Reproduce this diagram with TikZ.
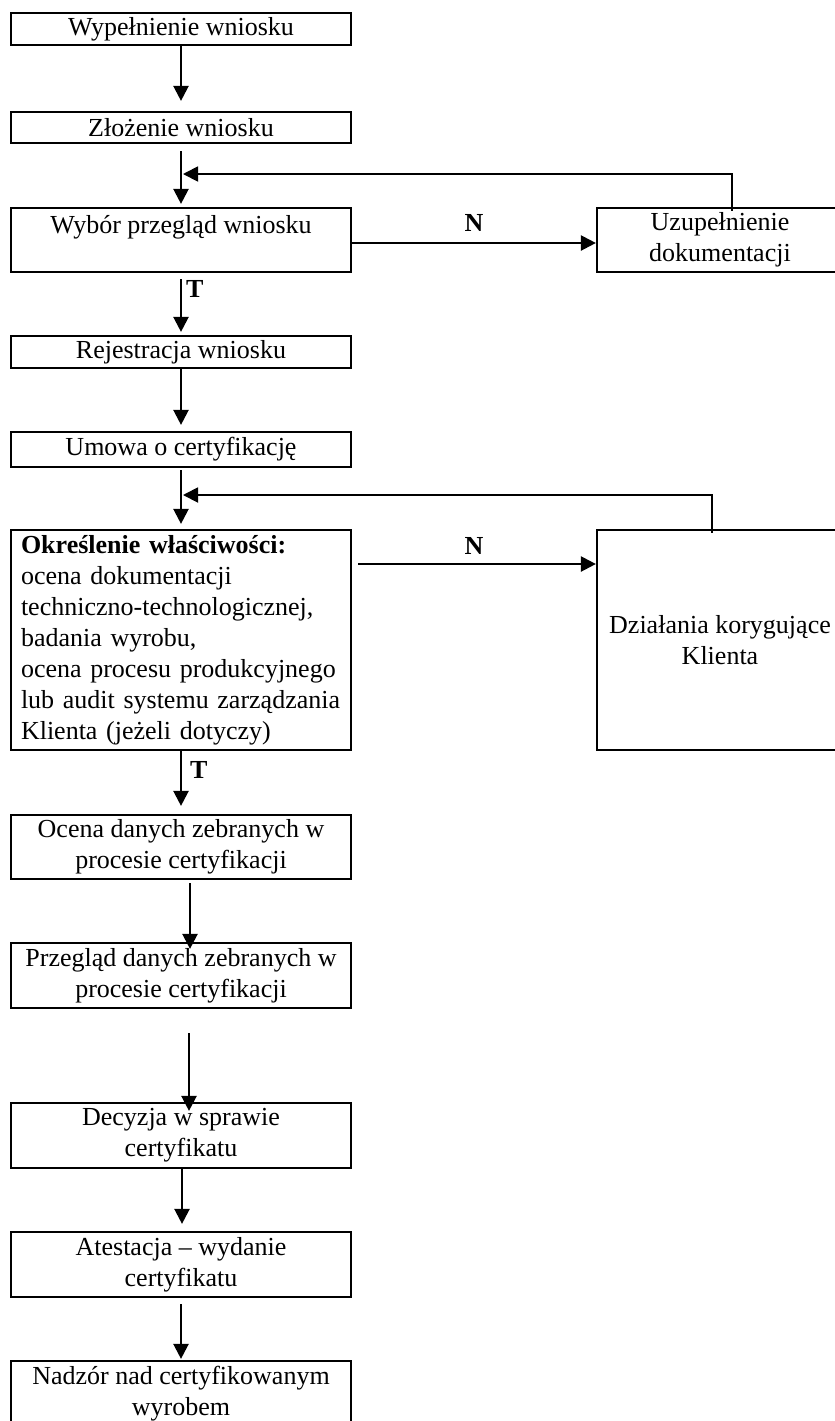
\documentclass[tikz,border=0pt]{standalone}
\usepackage{fontspec}
\setmainfont{Liberation Serif}
\usetikzlibrary{arrows.meta}

\begin{document}
\begin{tikzpicture}[x=0.5pt, y=-0.5pt,
    every node/.style={font=\fontsize{13}{15.5}\selectfont},
    box/.style={draw, line width=1.1pt, minimum width=170pt, inner sep=0pt, align=center},
    sidebox/.style={draw, line width=1.1pt, minimum width=123pt, inner sep=0pt, align=center},
    flow/.style={line width=1.15pt, -{Triangle[length=7.5pt,width=7.5pt]}},
    back/.style={line width=0.9pt, -{Triangle[length=7.5pt,width=7.5pt]}}]
    \useasboundingbox (0,0) rectangle (835,1421);
    \clip (0,0) rectangle (835,1421);

    % Main column
    \node[box, minimum height=16pt] (wyp) at (181,29) {Wypełnienie wniosku};
    \node[box, minimum height=15.5pt] (zloz) at (181,127.5) {Złożenie wniosku};
    \node[box, minimum height=32pt] (wybor) at (181,240) {Wybór przegląd wniosku\\~};
    \node[box, minimum height=16pt] (rej) at (181,352) {Rejestracja wniosku};
    \node[box, minimum height=17.5pt] (umowa) at (181,449.5) {Umowa o certyfikację};
    \node[box, minimum height=110pt, inner xsep=5pt, text width=160pt, align=left] (okresl) at (181,640)
        {\textbf{Określenie właściwości:}\\ocena dokumentacji\\techniczno-technologicznej,\\badania wyrobu,\\ocena procesu produkcyjnego\\lub audit systemu zarządzania\\Klienta (jeżeli dotyczy)};
    \node[box, minimum height=32pt] (ocena) at (181,847) {Ocena danych zebranych w\\procesie certyfikacji};
    \node[box, minimum height=32.5pt] (przeg) at (181,975.5) {Przegląd danych zebranych w\\procesie certyfikacji};
    \node[box, minimum height=32.5pt] (decyz) at (181,1135.5) {Decyzja w sprawie\\certyfikatu};
    \node[box, minimum height=32.5pt] (atest) at (181,1264.5) {Atestacja – wydanie\\certyfikatu};
    \node[box, minimum height=32.5pt] (nadzor) at (181,1393.5) {Nadzór nad certyfikowanym\\wyrobem};

    % Side boxes
    \node[sidebox, minimum height=32pt] (uzup) at (720,240) {Uzupełnienie\\dokumentacji};
    \node[sidebox, minimum height=110pt] (dzial) at (720,640) {Działania korygujące\\Klienta};

    % Joins of the feedback loops
    \coordinate (j1) at (183,174);
    \coordinate (j2) at (183,495);

    % Flow arrows
    \draw[flow, shorten >=5pt] (wyp) -- (zloz);
    \draw[flow, shorten <=3.5pt, shorten >=1.5pt] (zloz) -- (wybor);
    \draw[flow, shorten <=3pt, shorten >=1.5pt] (wybor) -- node[right, pos=0.25, inner sep=2pt] {\textbf{T}} (rej);
    \draw[flow, shorten >=3pt] (rej) -- (umowa);
    \draw[flow, shorten <=1pt, shorten >=2.5pt] (umowa) -- (okresl);
    \draw[flow, shorten >=4pt] (okresl) -- node[right, pos=0.3, inner sep=4pt] {\textbf{T}} (ocena);
    \draw[flow, shorten <=1.5pt, shorten >=-3.5pt] ([xshift=4.5pt]ocena.south) -- ([xshift=4.5pt]przeg.north);
    \draw[flow, shorten <=12pt, shorten >=-4.5pt] ([xshift=4pt]przeg.south) -- ([xshift=4pt]decyz.north);
    \draw[flow, shorten >=3.5pt] ([xshift=0.5pt]decyz.south) -- ([xshift=0.5pt]atest.north);
    \draw[flow, shorten <=3pt, shorten >=0.5pt] (atest) -- (nadzor);

    % N branches
    \draw[flow] ([yshift=-1.5pt]wybor.east) -- node[above=2pt] {\textbf{N}} ([yshift=-1.5pt]uzup.west);
    \draw[flow, shorten <=3pt] ([yshift=38pt]okresl.east) -- node[above=1pt] {\textbf{N}} ([yshift=38pt]dzial.west);

    % Feedback loops
    \draw[back] ([xshift=6pt,yshift=-2pt]uzup.north) |- (j1);
    \draw[back] ([xshift=-4pt,yshift=-2pt]dzial.north) |- (j2);
\end{tikzpicture}
\end{document}
